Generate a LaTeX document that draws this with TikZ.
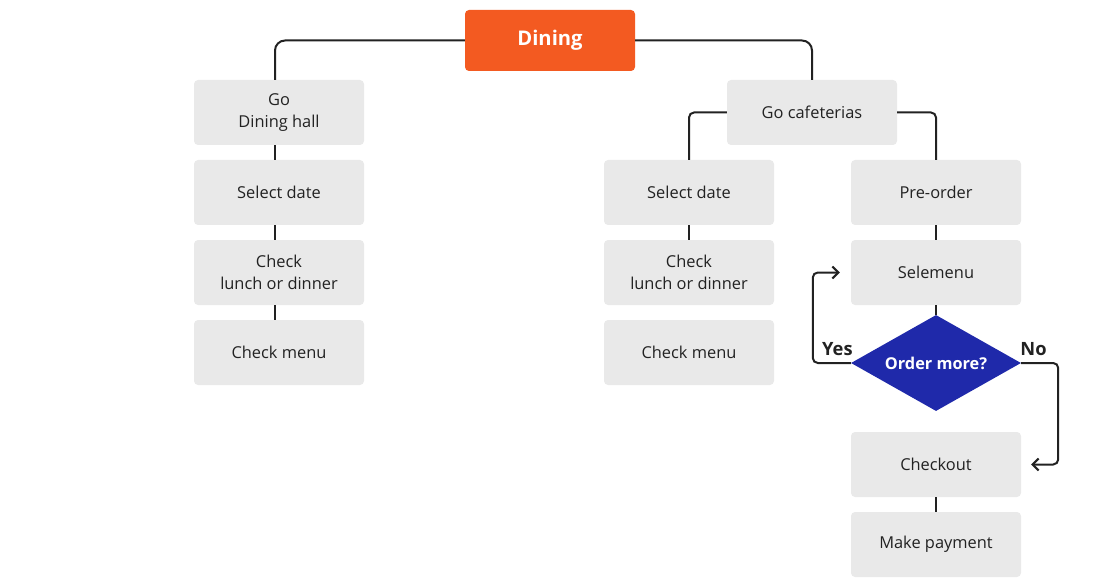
\documentclass[tikz,border=0pt]{standalone}
\usepackage{fontspec}
\setmainfont{Open Sans}
\usetikzlibrary{arrows.meta,shapes.geometric}

\definecolor{boxgray}{HTML}{E9E9E9}
\definecolor{dinorange}{HTML}{F35A21}
\definecolor{askblue}{HTML}{1F29AA}
\definecolor{inkgray}{HTML}{222222}

\begin{document}
\begin{tikzpicture}[x=1pt, y=-1pt, font=\fontsize{16.4}{22}\selectfont,
	box/.style={fill=boxgray, rounded corners=4pt, minimum width=170pt, minimum height=65pt, align=center, text=inkgray, inner sep=0pt},
	link/.style={draw=inkgray, line width=2pt, rounded corners=10pt},
	flow/.style={link, rounded corners=5pt, arrows={-Straight Barb[length=6pt,width=12pt]}}]
	\useasboundingbox (0,0) rectangle (1100,588);

	\node (dining) [fill=dinorange, rounded corners=4pt, minimum width=170pt, minimum height=61pt, text=white, font=\bfseries\fontsize{20.2}{24}\selectfont] at (550,40.5) {Dining};

	\node (hall) [box] at (279,112.5) {Go\\Dining hall};
	\node (hdate) [box] at (279,192.5) {Select date};
	\node (hmeal) [box] at (279,272.5) {Check\\lunch or dinner};
	\node (hmenu) [box] at (279,352.5) {Check menu};

	\node (cafe) [box] at (812,112.5) {Go cafeterias};
	\node (cdate) [box] at (689,192.5) {Select date};
	\node (cmeal) [box] at (689,272.5) {Check\\lunch or dinner};
	\node (cmenu) [box] at (689,352.5) {Check menu};

	\node (preorder) [box] at (936,192.5) {Pre-order};
	\node (selmenu) [box] at (936,272.5) {Selemenu};
	\node (more) [diamond, aspect=1.77, fill=askblue, inner sep=0pt, minimum width=170pt, minimum height=96pt, text=white, font=\bfseries\fontsize{16.3}{22}\selectfont] at (936,363) {Order more?};
	\node (checkout) [box] at (936,464.5) {Checkout};
	\node (payment) [box] at (936,544.5) {Make payment};

	\node (yes) [anchor=south east, inner sep=0pt, font=\bfseries\fontsize{18.3}{22}\selectfont, text=inkgray] at ([xshift=2pt,yshift=7pt]more.west) {Yes};
	\node (no) [anchor=south west, inner sep=0pt, font=\bfseries\fontsize{18.3}{22}\selectfont, text=inkgray] at ([xshift=-1pt,yshift=7pt]more.east) {No};

	\draw [link] (dining.west) -| ([xshift=-4pt]hall.north);
	\draw [link] (dining.east) -| (cafe.north);
	\draw [link] ([xshift=-4pt]hall.south) -- ([xshift=-4pt]hdate.north);
	\draw [link] ([xshift=-4pt]hdate.south) -- ([xshift=-4pt]hmeal.north);
	\draw [link] ([xshift=-4pt]hmeal.south) -- ([xshift=-4pt]hmenu.north);

	\draw [link, rounded corners=5pt] (cafe.west) -| (cdate.north);
	\draw [link, rounded corners=5pt] (cafe.east) -| (preorder.north);
	\draw [link] (cdate.south) -- (cmeal.north);

	\draw [link] (preorder.south) -- (selmenu.north);
	\draw [link] (selmenu.south) -- (more.north);
	\draw [flow] (more.west) -- ++(-38,0) |- ([xshift=-11pt]selmenu.west);
	\draw [flow] (more.east) -- ++(37,0) |- ([xshift=10pt]checkout.east);
	\draw [link] (checkout.south) -- (payment.north);
\end{tikzpicture}
\end{document}
